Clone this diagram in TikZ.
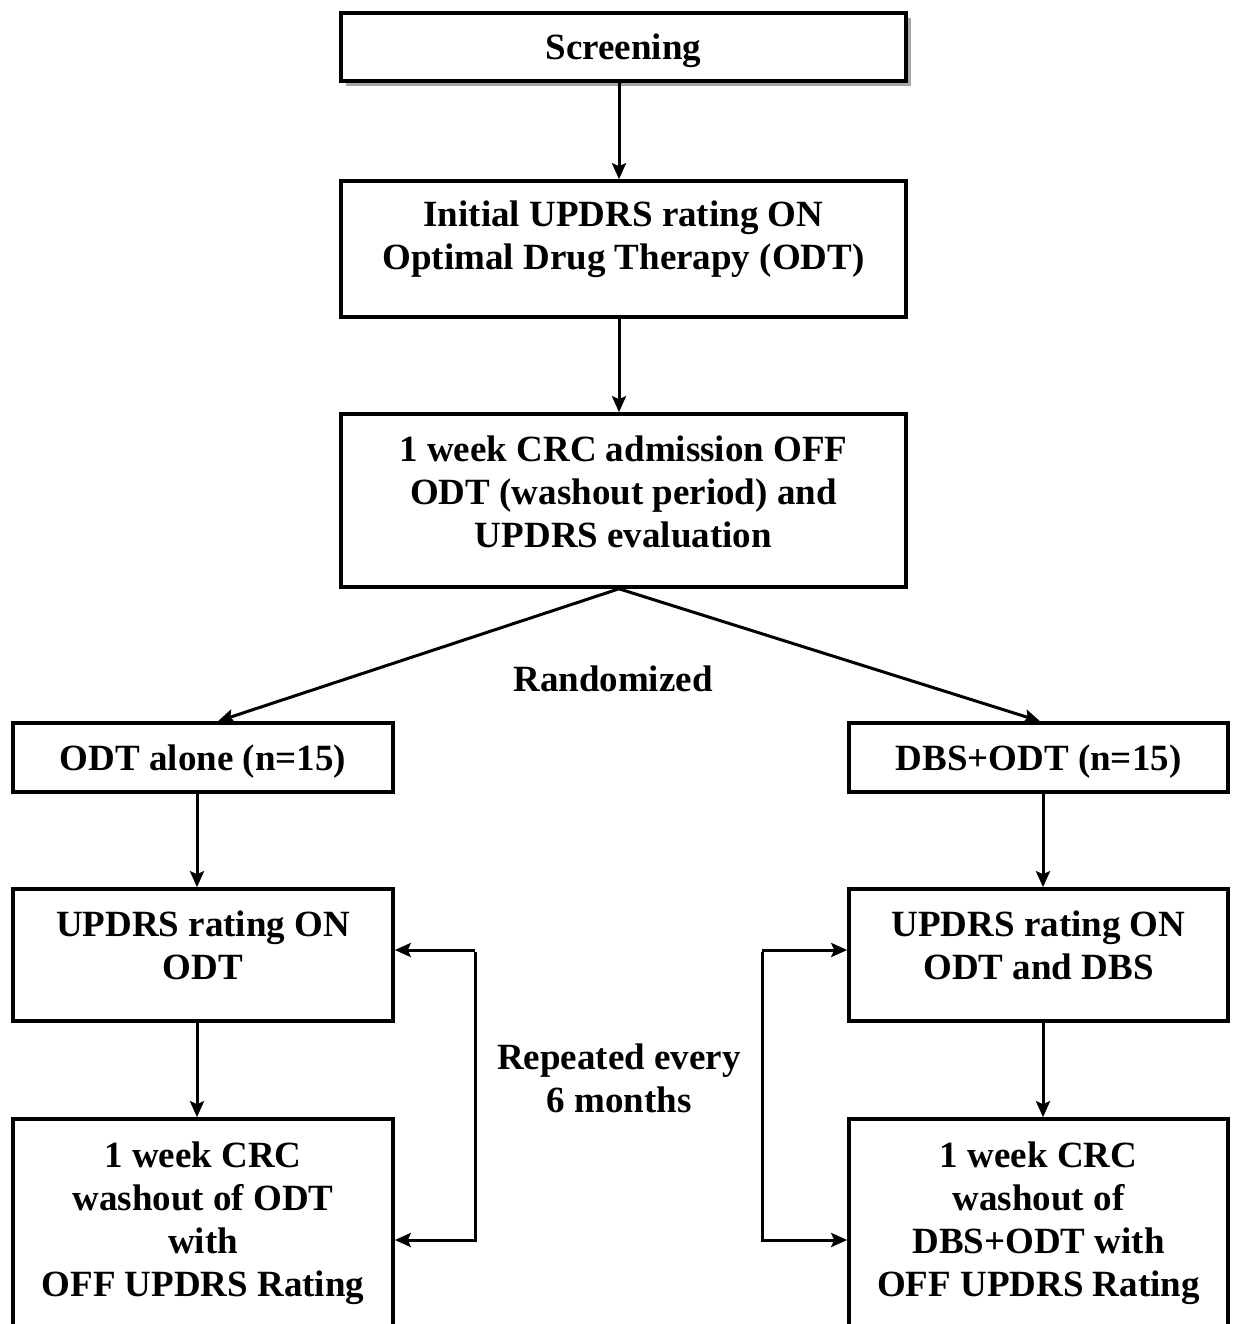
\documentclass[tikz,border=0pt]{standalone}
\usepackage{fontspec}
\setmainfont{Liberation Serif}
\usetikzlibrary{arrows.meta,shadows}
\begin{document}
\begin{tikzpicture}[x=1pt,y=-1pt,
  box/.style={draw,line width=3.6pt,fill=white,inner sep=0pt},
  lbl/.style={align=center,inner sep=0pt,font=\fontsize{37}{43}\selectfont\bfseries},
  arr/.style={line width=3pt,-{Stealth[length=16pt,width=14pt,inset=3pt]}},
  ln/.style={line width=3pt}]
\useasboundingbox (0,0) rectangle (1233,1324);
\node[box,minimum width=565pt,minimum height=68pt,
  drop shadow={shadow xshift=5pt,shadow yshift=-5pt,fill=black!35,opacity=1}]
  (scr) at (623.5,47) {};
\node[box,minimum width=565pt,minimum height=136pt] (init) at (623.5,249) {};
\node[box,minimum width=565pt,minimum height=173pt] (crc) at (623.5,500.5) {};
\node[box,minimum width=380pt,minimum height=69pt] (odt) at (203,757.5) {};
\node[box,minimum width=379pt,minimum height=69pt] (dbs) at (1038.5,757.5) {};
\node[box,minimum width=380pt,minimum height=132pt] (lon) at (203,955) {};
\node[box,minimum width=379pt,minimum height=132pt] (ron) at (1038.5,955) {};
\node[box,minimum width=380pt,minimum height=216pt] (loff) at (203,1227) {};
\node[box,minimum width=379pt,minimum height=216pt] (roff) at (1038.5,1227) {};
% texts
\node[lbl] (tscr) at ([yshift=-4pt]scr.center) {Screening};
\node[lbl] (tinit) at ([yshift=10pt]init.center) {Initial UPDRS rating ON\\Optimal Drug Therapy (ODT)};
\node[lbl] (tcrc) at ([yshift=9pt]crc.center) {1 week CRC admission OFF\\ODT (washout period) and\\UPDRS evaluation};
\node[lbl] (todt) at ([yshift=-4pt]odt.center) {ODT alone (n=15)};
\node[lbl] (tdbs) at ([yshift=-4pt]dbs.center) {DBS+ODT (n=15)};
\node[lbl] (tlon) at ([yshift=10pt]lon.center) {UPDRS rating ON\\ODT};
\node[lbl] (tron) at ([yshift=10pt]ron.center) {UPDRS rating ON\\ODT and DBS};
\node[lbl] (tloff) at ([yshift=4pt]loff.center) {1 week CRC\\washout of ODT\\with\\OFF UPDRS Rating};
\node[lbl] (troff) at ([yshift=4pt]roff.center) {1 week CRC\\washout of\\DBS+ODT with\\OFF UPDRS Rating};
\node[lbl] (rand) at (613,679) {Randomized};
\node[lbl] (rep) at (619,1078) {Repeated every\\6 months};
\coordinate (lloop) at (475,950);
\coordinate (rloop) at (762,950);
% arrows
\draw[arr] ([xshift=-4.5pt]scr.south) -- ([xshift=-4.5pt]init.north);
\draw[arr] ([xshift=-4.5pt]init.south) -- ([xshift=-4.5pt]crc.north);
\draw[arr] ([xshift=-4.5pt]crc.south) -- ([xshift=15pt]odt.north);
\draw[arr] ([xshift=-4.5pt]crc.south) -- ([xshift=1.5pt]dbs.north);
\draw[arr] ([xshift=-6pt]odt.south) -- ([xshift=-6pt]lon.north);
\draw[arr] ([xshift=4.5pt]dbs.south) -- ([xshift=4.5pt]ron.north);
\draw[arr] ([xshift=-6pt]lon.south) -- ([xshift=-6pt]loff.north);
\draw[arr] ([xshift=4.5pt]ron.south) -- ([xshift=4.5pt]roff.north);
% loops
\draw[arr] (lloop) -- (lloop -| lon.east);
\draw[arr] ([yshift=-1.5pt]lloop) -- (lloop |- 0,1240) -- (loff.east |- 0,1240);
\draw[arr] (rloop) -- (rloop -| ron.west);
\draw[arr] ([yshift=-1.5pt]rloop) -- (rloop |- 0,1240) -- (roff.west |- 0,1240);
\end{tikzpicture}
\end{document}
